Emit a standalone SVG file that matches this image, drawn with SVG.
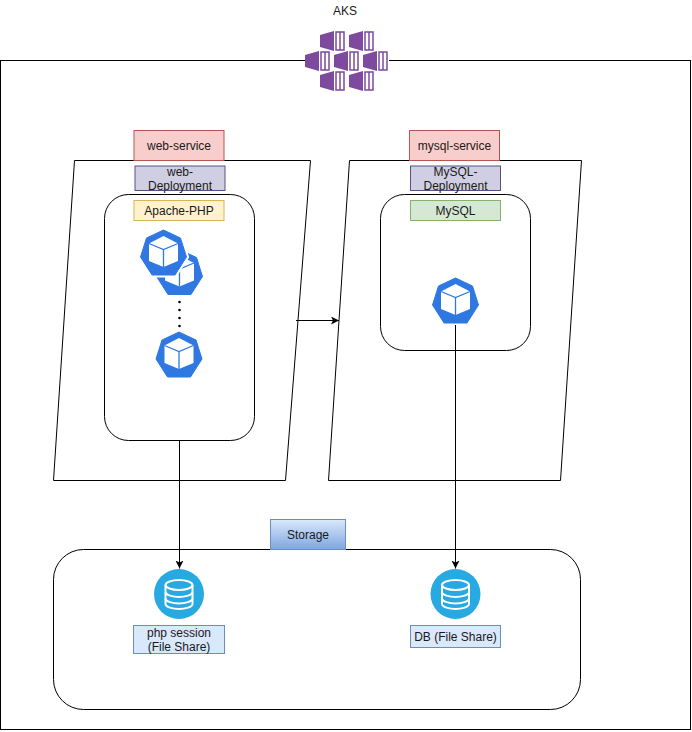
<svg xmlns="http://www.w3.org/2000/svg" xmlns:xlink="http://www.w3.org/1999/xlink" width="692" height="732" viewBox="0 0 692 732">
<style>
text{font-family:"Liberation Sans",Arial,sans-serif;font-size:12px;fill:#1a1a1a;text-anchor:middle}
.shape{fill:#fff;stroke:#000;stroke-width:1}
.conn{fill:none;stroke:#000;stroke-width:1;marker-end:url(#arrow)}
.red{fill:#f8cecc;stroke:#b85450}
.purple{fill:#d0cee2;stroke:#56517e}
.yellow{fill:#fff2cc;stroke:#d6b656}
.green{fill:#d5e8d4;stroke:#82b366}
.blue{fill:#dae8fc;stroke:#6c8ebf}
.grad{fill:url(#g);stroke:#6c8ebf}
</style>
<defs>
<marker id="arrow" markerWidth="9" markerHeight="9" refX="8" refY="4" orient="auto" markerUnits="userSpaceOnUse"><path d="M0 0L8 4L0 8L2 4Z" fill="#000"/></marker>
<linearGradient id="g" x1="0" y1="0" x2="0" y2="1"><stop offset="0" stop-color="#dae8fc"/><stop offset="1" stop-color="#7ea6e0"/></linearGradient>
<g id="cont">
<path d="M0 4L14 0V20L0 16Z" fill="#7d4a9e"/>
<path d="M16 1H24V19H16Z" fill="#fff" stroke="#7d4a9e" stroke-width="1.500"/>
<path d="M20 1V19" stroke="#7d4a9e" stroke-width="1.500"/>
</g>
<path id="hept" d="M0 -23L17 -15L23 4L11.500 22H-11.500L-23 4L-17 -15Z" stroke-linejoin="round"/>
<g id="pod">
<use xlink:href="#hept" href="#hept" fill="#2f78e2" stroke="#2f78e2" stroke-width="1"/>
<path d="M0 -17L14.500 -9.500V8L0 14L-14.500 8V-9.500Z" fill="#fff"/>
<path d="M-14.500 -9.500L0 -3.500L14.500 -9.500M0 -3.500V14" fill="none" stroke="#2f78e2" stroke-width="1.300"/>
</g>
<g id="db">
<circle r="25" fill="#27a9e1"/>
<g fill="none" stroke="#fff" stroke-width="2">
<ellipse cy="-9" rx="13.500" ry="5"/>
<path d="M-13.500 -9V10C-13.500 13 -6 15 0 15S13.500 13 13.500 10V-9"/>
<path d="M-13.500 -2C-13.500 1 -6 3 0 3S13.500 1 13.500 -2M-13.500 4.500C-13.500 7.500 -6 9.500 0 9.500S13.500 7.500 13.500 4.500"/>
</g>
</g>
</defs>
<rect width="692" height="732" fill="#fff"/>
<g id="aks-frame"><rect class="shape" x="0.500" y="60.500" width="690" height="669"/></g>
<g id="web-zone"><path class="shape" d="M74.500 160.500H310.500L285.500 480.500H53.500Z"/></g>
<g id="mysql-zone"><path class="shape" d="M349.500 160.500H581.500L560.500 480.500H328.500Z"/></g>
<g id="storage-zone"><rect class="shape" x="53.500" y="549.500" width="527" height="160" rx="30"/></g>
<g id="aks-icon">
<text x="345" y="15">AKS</text>
<rect x="305" y="50" width="84" height="21" fill="#fff"/>
<use xlink:href="#cont" href="#cont" x="320" y="31"/>
<use xlink:href="#cont" href="#cont" x="349" y="31"/>
<use xlink:href="#cont" href="#cont" x="305" y="51"/>
<use xlink:href="#cont" href="#cont" x="334" y="51"/>
<use xlink:href="#cont" href="#cont" x="363" y="51"/>
<use xlink:href="#cont" href="#cont" x="320" y="71"/>
<use xlink:href="#cont" href="#cont" x="349" y="71"/>
</g>
<g id="web-service"><rect class="red" x="134" y="130.500" width="90" height="30"/><text x="179" y="149.500">web-service</text></g>
<g id="web-deployment"><rect class="purple" x="135" y="166" width="90" height="24.500"/><text x="180" y="176">web-</text><text x="180" y="190">Deployment</text></g>
<g id="apache-box"><rect class="shape" x="104.500" y="194.500" width="150" height="246" rx="24"/></g>
<g id="apache-php"><rect class="yellow" x="134" y="200.500" width="90" height="20"/><text x="179" y="214.500">Apache-PHP</text></g>
<g id="pod-2"><use xlink:href="#pod" href="#pod" x="179.500" y="272.500"/></g>
<g id="pod-1"><use xlink:href="#hept" href="#hept" x="163.500" y="253" fill="#fff" stroke="#fff" stroke-width="5"/><use xlink:href="#pod" href="#pod" x="163.500" y="253"/></g>
<g id="dots" fill="#000"><circle cx="179.500" cy="302" r="1.300"/><circle cx="179.500" cy="310" r="1.300"/><circle cx="179.500" cy="318" r="1.300"/><circle cx="179.500" cy="326" r="1.300"/></g>
<g id="pod-3"><use xlink:href="#pod" href="#pod" x="179" y="355"/></g>
<g id="mysql-service"><rect class="red" x="409.500" y="130.500" width="90" height="30"/><text x="454.500" y="149.500">mysql-service</text></g>
<g id="mysql-deployment"><rect class="purple" x="410.500" y="166" width="90" height="24.500"/><text x="455.500" y="176">MySQL-</text><text x="455.500" y="190">Deployment</text></g>
<g id="mysql-box"><rect class="shape" x="380.500" y="194.500" width="150" height="156" rx="24"/></g>
<g id="mysql"><rect class="green" x="410.500" y="200.500" width="90" height="20"/><text x="455.500" y="214.500">MySQL</text></g>
<g id="pod-4"><use xlink:href="#pod" href="#pod" x="455.500" y="301"/></g>
<g id="storage"><rect class="grad" x="270.500" y="519.500" width="75" height="30"/><text x="308" y="538.500">Storage</text></g>
<g id="php-db"><use xlink:href="#db" href="#db" x="179" y="594"/></g>
<g id="php-session"><rect class="blue" x="133.500" y="625.500" width="91" height="28"/><text x="179" y="637">php session</text><text x="179" y="651">(File Share)</text></g>
<g id="mysql-db"><use xlink:href="#db" href="#db" x="455.500" y="594"/></g>
<g id="db-share"><rect class="blue" x="410.500" y="625.500" width="90" height="22"/><text x="455.500" y="641">DB (File Share)</text></g>
<g id="connectors">
<path class="conn" d="M296 320.500H339"/>
<path class="conn" d="M179.500 440.500V568.500"/>
<path class="conn" d="M455.500 325V568.500"/>
</g>
</svg>
